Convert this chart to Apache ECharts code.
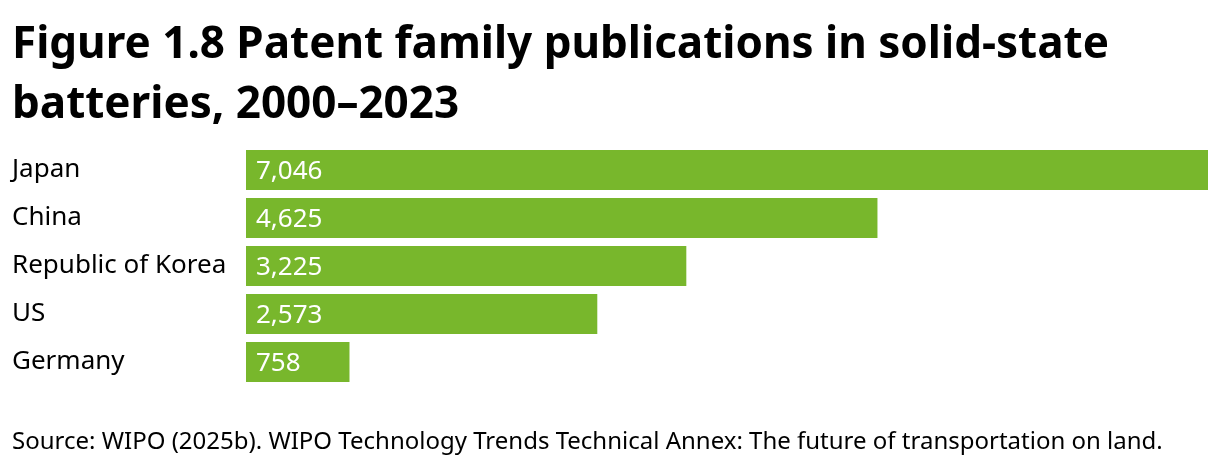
<!DOCTYPE html>
<html><head><meta charset="utf-8">
<script src="https://cdn.jsdelivr.net/npm/echarts@6/dist/echarts.min.js"></script>
<style>html,body{margin:0;padding:0;background:#fff}#c{width:1220px;height:466px}</style>
</head><body><div id="c"></div>
<script>
const categories = ["Japan", "China", "Republic of Korea", "US", "Germany"];
const values = [7046, 4625, 3225, 2573, 758];
const titleText = "Figure 1.8 Patent family publications in solid-state\nbatteries, 2000–2023";
const sourceText = "Source: WIPO (2025b). WIPO Technology Trends Technical Annex: The future of transportation on land.";

const chart = echarts.init(document.getElementById('c'));
chart.setOption({
  animation: false,
  backgroundColor: '#fff',
  textStyle: { fontFamily: 'Noto Sans' },
  title: {
    text: titleText,
    left: 12, top: 15,
    padding: 0,
    textStyle: { fontFamily: 'Noto Sans', fontSize: 44, fontWeight: 'bold', color: '#000', lineHeight: 60 }
  },
  graphic: [{
    type: 'text', left: 12, top: 430,
    style: { text: sourceText, font: '24px "Noto Sans"', fill: '#000' }
  }],
  grid: { left: 246, right: 12, top: 146, bottom: 80, containLabel: false },
  xAxis: { type: 'value', min: 0, max: 7046, show: false },
  yAxis: {
    type: 'category', data: categories, inverse: true,
    axisLine: { show: false }, axisTick: { show: false },
    axisLabel: { align: 'left', margin: 234, fontSize: 26, color: '#000', fontFamily: 'Noto Sans', padding: [4, 0, 0, 0] }
  },
  series: [{
    type: 'bar', data: values, barWidth: 40,
    itemStyle: { color: '#78b72c' },
    label: {
      show: true, position: 'insideLeft', distance: 10, offset: [0, 2],
      color: '#fff', fontSize: 26, fontFamily: 'Noto Sans',
      formatter: p => p.value.toLocaleString('en-US')
    }
  }]
});
</script></body></html>
